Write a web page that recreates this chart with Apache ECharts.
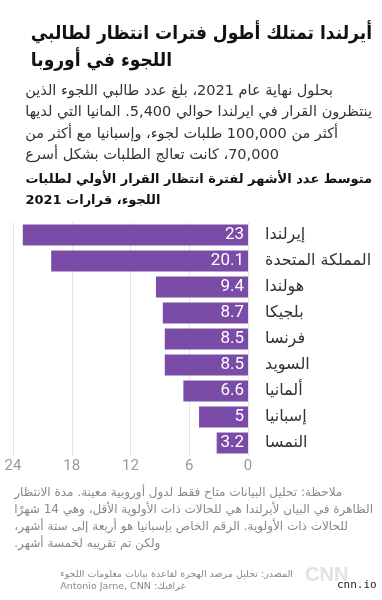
<!DOCTYPE html>
<html>
<head>
<meta charset="utf-8">
<script src="https://cdn.jsdelivr.net/npm/echarts@6/dist/echarts.min.js"></script>
<style>
  html, body { margin: 0; padding: 0; background: #fff; }
  #chart { width: 382px; height: 600px; }
</style>
</head>
<body>
<div id="chart"></div>
<script>
// البيانات
var countries = ['إيرلندا', 'المملكة المتحدة', 'هولندا', 'بلجيكا', 'فرنسا', 'السويد', 'ألمانيا', 'إسبانيا', 'النمسا'];
var months = [23, 20.1, 9.4, 8.7, 8.5, 8.5, 6.6, 5, 3.2];

var titleLines = ['أيرلندا تمتلك أطول فترات انتظار لطالبي', 'اللجوء في أوروبا'];
var bodyLines = [
  'بحلول نهاية عام 2021، بلغ عدد طالبي اللجوء الذين',
  'ينتظرون القرار في ايرلندا حوالي 5,400. المانيا التي لديها',
  'أكثر من 100,000 طلبات لجوء، وإسبانيا مع أكثر من',
  '70,000، كانت تعالج الطلبات بشكل أسرع'
];
var subLines = ['متوسط عدد الأشهر لفترة انتظار القرار الأولي لطلبات', 'اللجوء، قرارات 2021'];
var noteLines = [
  'ملاحظة: تحليل البيانات متاح فقط لدول أوروبية معينة. مدة الانتظار',
  'الظاهرة في البيان لأيرلندا هي للحالات ذات الأولوية الأقل، وهي 14 شهرًا',
  'للحالات ذات الأولوية. الرقم الخاص بإسبانيا هو أربعة إلى ستة أشهر،',
  'ولكن تم تقريبه لخمسة أشهر.'
];
var sourceLines = ['المصدر: تحليل مرصد الهجرة لقاعدة بيانات معلومات اللجوء', 'غرافيك: Antonio Jarne, CNN'];

var arFont = '"DejaVu Sans", "Noto Sans", sans-serif';
var condFont = '"DejaVu Sans Condensed", "DejaVu Sans", sans-serif';
var numFont = 'Roboto, "Liberation Sans", sans-serif';

var myChart = echarts.init(document.getElementById('chart'));

// كل سطر يُلف باتجاه من اليمين لليسار
function rtl(s) {
  return '\u202B' + s + '\u202C';
}

function textBlock(lines, top, size, lineH, weight, color, right, family) {
  return {
    type: 'text',
    right: right,
    top: top,
    style: {
      text: lines.map(rtl).join('\n'),
      fontSize: size,
      fontWeight: weight,
      fontFamily: family || arFont,
      lineHeight: lineH,
      fill: color,
      align: 'right'
    }
  };
}

var option = {
  animation: false,
  grid: { left: 13, right: 134, top: 222, height: 234 },
  xAxis: {
    type: 'value',
    inverse: true,
    min: 0,
    max: 24,
    interval: 6,
    axisLine: { show: false },
    axisTick: { show: false },
    splitLine: { lineStyle: { color: '#e6e6e6', width: 1 } },
    axisLabel: {
      color: '#999',
      fontSize: 15,
      fontFamily: numFont,
      margin: 3
    }
  },
  yAxis: {
    type: 'category',
    position: 'right',
    inverse: true,
    data: countries,
    axisLine: { show: false },
    axisTick: { show: false },
    splitLine: { show: false },
    axisLabel: {
      color: '#333',
      fontSize: 16,
      fontFamily: arFont,
      align: 'left',
      margin: 17
    }
  },
  series: [{
    type: 'bar',
    data: months,
    barWidth: 21,
    itemStyle: { color: '#7a4ca8' },
    label: {
      show: true,
      position: 'insideRight',
      distance: 4,
      color: '#fff',
      fontSize: 17,
      fontFamily: numFont
    }
  }],
  graphic: [
    textBlock(titleLines, 21, 19, 27, 'bold', '#111', 10, condFont),
    textBlock(bodyLines, 80, 14.5, 21.5, 'normal', '#333', 10),
    textBlock(subLines, 169, 13, 21, 'bold', '#111', 10),
    textBlock(noteLines, 485, 12, 16.7, 'normal', '#888', 9),
    textBlock(sourceLines, 569, 9.5, 12, 'normal', '#888', 89),
    {
      type: 'text',
      left: 305,
      top: 565,
      style: { text: 'CNN', fontSize: 20, fontWeight: 'bold', fontFamily: '"Liberation Sans", sans-serif', fill: '#e2e2e2' }
    },
    {
      type: 'text',
      left: 337,
      top: 580,
      style: { text: 'cnn.io', fontSize: 11, fontFamily: '"DejaVu Sans Mono", monospace', fill: '#222' }
    }
  ]
};
myChart.setOption(option);
</script>
</body>
</html>
